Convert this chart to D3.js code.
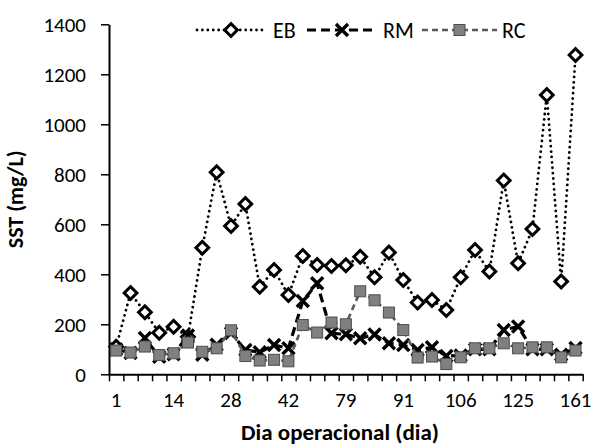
<!DOCTYPE html>
<html><head><meta charset="utf-8">
<script src="https://cdn.jsdelivr.net/npm/d3@7"></script>
<style>
body{margin:0;background:#fff;}
text{font-family:Carlito,Calibri,Lato,sans-serif;}
</style></head>
<body><svg id="c" width="592" height="447"></svg>
<script>
const days = [1,4,7,10,14,17,21,24,28,31,35,38,42,51,60,70,79,82,85,88,91,95,98,102,106,111,115,120,125,134,143,152,161];
const seriesNames = ["EB","RM","RC"];
const EB = [110,325,248,166,190,150,506,808,593,681,350,417,317,473,437,433,436,470,388,487,377,287,297,257,388,497,411,775,444,581,1117,371,1277];
const RM = [100,85,145,70,80,155,78,118,165,97,88,117,104,293,364,164,160,144,159,124,117,97,108,73,75,100,100,177,191,100,100,78,105];
const RC = [95,87,111,77,84,127,90,104,176,73,55,58,52,197,167,207,200,332,296,247,177,67,71,41,68,104,104,124,104,108,108,68,95];
const yTicks = [0,200,400,600,800,1000,1200,1400];
const xLabelIdx = [0,4,8,12,16,20,24,28,32];

const svg = d3.select("#c");
const L=109, R=582.7, T=24.3, B=374.3;
const idx = d3.range(days.length);
const x = d3.scaleBand().domain(idx).range([L,R]).padding(0);
const xb = d3.scaleLinear().domain([0,days.length]).range([L,R]);
const y = d3.scaleLinear().domain([0,1400]).range([B,T]);
const cx = i => x(i)+x.bandwidth()/2;

// axes
const ya = svg.append("g").attr("transform",`translate(${L},0)`)
  .call(d3.axisLeft(y).tickValues(yTicks).tickSize(8).tickPadding(15).tickSizeOuter(0).tickFormat(d3.format("d")));
ya.select(".domain").attr("stroke","#000").attr("stroke-width",2);
ya.selectAll(".tick line").attr("stroke","#000").attr("stroke-width",1.5);
ya.selectAll("text").attr("font-size",21).attr("fill","#000");

const xt = svg.append("g").attr("transform",`translate(0,${B})`)
  .call(d3.axisBottom(xb).tickValues(d3.range(days.length+1)).tickSize(7).tickFormat("").tickSizeOuter(0));
xt.select(".domain").attr("stroke","#000").attr("stroke-width",2);
xt.selectAll(".tick line").attr("stroke","#000").attr("stroke-width",1.5);
const xl = svg.append("g").attr("transform",`translate(0,${B})`)
  .call(d3.axisBottom(x).tickValues(xLabelIdx).tickSize(0).tickPadding(17.5).tickFormat(i=>days[i]));
xl.select(".domain").remove();
xl.selectAll("text").attr("font-size",21).attr("fill","#000");

svg.append("text").attr("transform",`translate(15,${(T+B)/2}) rotate(-90)`)
  .attr("text-anchor","middle").attr("dy","0.35em").attr("font-weight","bold").attr("font-size",22).text("SST (mg/L)");
svg.append("text").attr("x",340).attr("y",440).attr("text-anchor","middle")
  .attr("font-weight","bold").attr("font-size",23).text("Dia operacional (dia)");

const line = d3.line().x((d,i)=>cx(i)).y(d=>y(d));

const styles = {
  EB:{stroke:"#000",width:2.8,dash:"0.01,5.4",cap:"round"},
  RM:{stroke:"#000",width:3.2,dash:"9,5",cap:"butt"},
  RC:{stroke:"#595959",width:2.6,dash:"6,4",cap:"butt"}
};
function marker(g,name,px,py){
  if(name==="EB"){
    g.append("rect").attr("x",px-4.5).attr("y",py-4.5).attr("width",9).attr("height",9)
      .attr("transform",`rotate(45,${px},${py})`).attr("fill","#fff").attr("stroke","#000").attr("stroke-width",3);
  } else if(name==="RM"){
    g.append("path").attr("d",`M${px-6},${py-6}L${px+6},${py+6}M${px-6},${py+6}L${px+6},${py-6}`)
      .attr("stroke","#000").attr("stroke-width",3.4).attr("fill","none");
  } else {
    g.append("rect").attr("x",px-5.5).attr("y",py-5.5).attr("width",11).attr("height",11)
      .attr("fill","#808080").attr("stroke","#4d4d4d").attr("stroke-width",1);
  }
}
const data = {EB,RM,RC};
seriesNames.forEach(n=>{
  const s=styles[n];
  const g=svg.append("g");
  g.append("path").attr("d",line(data[n])).attr("fill","none").attr("stroke",s.stroke)
    .attr("stroke-width",s.width).attr("stroke-dasharray",s.dash).attr("stroke-linecap",s.cap);
  data[n].forEach((v,i)=>marker(g,n,cx(i),y(v)));
});

// legend
const leg = [{n:"EB",x0:197,x1:265,tx:273},{n:"RM",x0:307,x1:377,tx:383},{n:"RC",x0:422,x1:497,tx:502}];
const ly=30;
leg.forEach(l=>{
  const s=styles[l.n]; const g=svg.append("g");
  g.append("line").attr("x1",l.x0).attr("x2",l.x1).attr("y1",ly).attr("y2",ly).attr("stroke",s.stroke)
    .attr("stroke-width",s.width).attr("stroke-dasharray",s.dash).attr("stroke-linecap",s.cap);
  marker(g,l.n,(l.x0+l.x1)/2,ly);
  g.append("text").attr("x",l.tx).attr("y",ly).attr("dy","0.35em").attr("font-size",22).text(l.n);
});
</script></body></html>
